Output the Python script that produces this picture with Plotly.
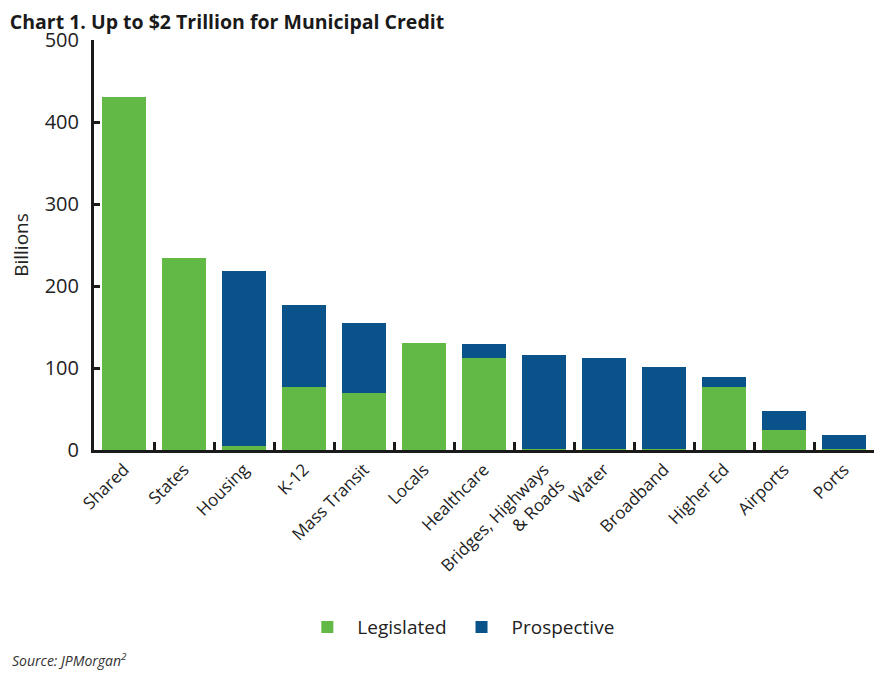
import plotly.graph_objects as go

categories = ["Shared", "States", "Housing", "K-12", "Mass Transit", "Locals", "Healthcare",
              "Bridges, Highways<br>& Roads", "Water", "Broadband", "Higher Ed", "Airports", "Ports"]
legislated = [430, 234, 5, 77, 69, 130, 112, 1, 1, 1, 77, 24, 1]
prospective = [0, 0, 213, 100, 86, 0, 17, 115, 111, 100, 12, 24, 17]
y_ticks = [0, 100, 200, 300, 400, 500]

GREEN = "#62B946"
BLUE = "#0A528A"
FONT = "Open Sans"
TXT = "#222222"

fig = go.Figure()
fig.add_trace(go.Bar(x=categories, y=legislated, name="Legislated", marker=dict(color=GREEN, line=dict(width=0))))
fig.add_trace(go.Bar(x=categories, y=prospective, name="Prospective", marker=dict(color=BLUE, line=dict(width=0))))

fig.update_layout(
    barmode="stack",
    bargap=0.27,
    width=883, height=681,
    margin=dict(l=86, r=17, t=32, b=239, autoexpand=False),
    paper_bgcolor="white", plot_bgcolor="white",
    font=dict(family=FONT, color=TXT),
    title=dict(text="<b>Chart 1. Up to $2 Trillion for Municipal Credit</b>",
               xref="container", x=0.002, xanchor="left",
               yref="container", y=0.979, yanchor="middle",
               pad=dict(l=0, r=0, t=0, b=0),
               font=dict(size=19.5, family=FONT, color="#1a1a1a")),
    showlegend=True,
    legend=dict(orientation="h", xref="container", x=0.51, xanchor="center",
                yref="container", y=0.091, yanchor="middle",
                font=dict(size=19, family=FONT, color=TXT), traceorder="normal",
                itemwidth=50),
    xaxis=dict(range=[-0.5, 12.5], tickangle=-45, tickfont=dict(size=17, family=FONT, color=TXT),
               showline=True, linecolor="#1a1a1a", linewidth=3,
               ticks="inside", tickson="boundaries", ticklen=8, tickwidth=3, tickcolor="#1a1a1a",
               showgrid=False, zeroline=False),
    yaxis=dict(range=[0, 500], tickvals=y_ticks, tickfont=dict(size=20, family=FONT, color=TXT),
               showline=True, linecolor="#1a1a1a", linewidth=3,
               ticks="inside", ticklen=6, tickwidth=3, tickcolor="#1a1a1a",
               ticklabelstandoff=8,
               showgrid=False, zeroline=False,
               title=dict(text="Billions", font=dict(size=19, family=FONT, color=TXT), standoff=16)),
    annotations=[dict(text="<i>Source: JPMorgan<sup>2</sup></i>", xref="paper", yref="paper",
                      x=-0.108, y=-0.512, xanchor="left", yanchor="middle", showarrow=False,
                      font=dict(size=14, family=FONT, color="#333333"))],
)

fig.write_html("out.html")
